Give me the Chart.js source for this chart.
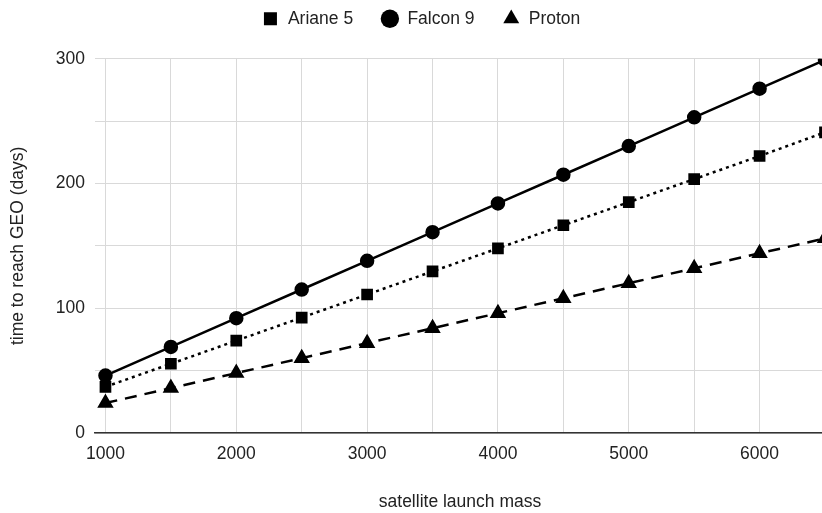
<!DOCTYPE html>
<html>
<head>
<meta charset="utf-8">
<script src="https://cdn.jsdelivr.net/npm/chart.js@4"></script>
<style>
  html, body { margin: 0; padding: 0; background: #fff; overflow: hidden; }
  /* il grafico originale è tagliato a destra e in alto: canvas un po' più grande */
  #wrap { width: 836px; height: 531px; margin-top: -18px; }
</style>
</head>
<body>
<div id="wrap"><canvas id="launchChart"></canvas></div>
<script>
// masse dei satelliti (asse x)
const masses = [1000, 1500, 2000, 2500, 3000, 3500, 4000, 4500, 5000, 5500, 6000, 6500];

// giorni per arrivare in GEO
const ariane5 = [37, 55.5, 74, 92.5, 111, 129.5, 148, 166.5, 185, 203.5, 222, 241];
const falcon9 = [46, 69, 92, 115, 138, 161, 184, 207, 230, 253, 276, 299];
const proton  = [24, 36, 48, 60, 72, 84, 96, 108, 120, 132, 144, 156];

const xTicks = [1000, 1500, 2000, 2500, 3000, 3500, 4000, 4500, 5000, 5500, 6000, 6500];
const yTicks = [0, 50, 100, 150, 200, 250, 300];

const FONT = "'Liberation Sans', Arial, sans-serif";
const FSIZE = 17.5;
const toPoints = vals => vals.map((v, i) => ({ x: masses[i], y: v }));

const ctx = document.getElementById('launchChart').getContext('2d');
new Chart(ctx, {
    type: 'line',
    data: {
        datasets: [
            {
                label: 'Ariane 5',
                data: toPoints(ariane5),
                borderColor: '#000',
                backgroundColor: '#000',
                borderWidth: 2.5,
                borderDash: [3, 4],
                pointStyle: 'rect',
                pointRadius: 6.5,
                pointHoverRadius: 6.5
            },
            {
                label: 'Falcon 9',
                data: toPoints(falcon9),
                borderColor: '#000',
                backgroundColor: '#000',
                borderWidth: 2.5,
                pointStyle: 'circle',
                pointRadius: 6,
                pointHoverRadius: 6
            },
            {
                label: 'Proton',
                data: toPoints(proton),
                borderColor: '#000',
                backgroundColor: '#000',
                borderWidth: 2.5,
                borderDash: [12, 8],
                pointStyle: 'triangle',
                pointRadius: 7,
                pointHoverRadius: 7
            }
        ]
    },
    options: {
        responsive: true,
        maintainAspectRatio: false,
        animation: false,
        layout: { padding: { top: 0, right: 10, bottom: 0, left: 16 } },
        plugins: {
            legend: {
                position: 'top',
                labels: {
                    usePointStyle: true,
                    boxWidth: 17.5,
                    boxHeight: 13,
                    padding: 28,
                    color: '#222',
                    font: { family: FONT, size: FSIZE },
                    // niente bordo tratteggiato sui simboli della legenda
                    generateLabels: chart => Chart.defaults.plugins.legend.labels.generateLabels(chart)
                        .map(item => ({ ...item, lineWidth: 0, lineDash: [] }))
                }
            },
            // spazio vuoto tra legenda e area del grafico
            subtitle: {
                display: true,
                text: '',
                weight: 500,
                font: { size: 1 },
                padding: { top: 0, bottom: 20 }
            },
            tooltip: { enabled: false }
        },
        scales: {
            x: {
                type: 'linear',
                min: 920,
                max: 6500,
                afterBuildTicks: s => { s.ticks = xTicks.map(v => ({ value: v })); },
                afterFit: s => { s.height = 80; },
                ticks: {
                    color: '#222',
                    padding: 11,
                    maxRotation: 0,
                    autoSkip: false,
                    font: { family: FONT, size: FSIZE },
                    callback: v => (v % 1000 === 0 ? String(v) : '')
                },
                grid: { color: '#d9d9d9', lineWidth: 1, drawTicks: false },
                border: { display: true, color: '#333', width: 1.5 },
                title: {
                    display: true,
                    text: 'satellite launch mass',
                    color: '#222',
                    font: { family: FONT, size: FSIZE },
                    padding: { top: 0, bottom: 0 }
                }
            },
            y: {
                min: 0,
                max: 300,
                afterBuildTicks: s => { s.ticks = yTicks.map(v => ({ value: v })); },
                afterFit: s => { s.width = 79; },
                ticks: {
                    color: '#222',
                    padding: 10,
                    autoSkip: false,
                    font: { family: FONT, size: FSIZE },
                    callback: v => (v % 100 === 0 ? String(v) : '')
                },
                grid: { color: '#d9d9d9', lineWidth: 1, drawTicks: false },
                border: { display: false },
                title: {
                    display: true,
                    text: 'time to reach GEO (days)',
                    color: '#222',
                    font: { family: FONT, size: FSIZE },
                    padding: { top: -8, bottom: 0 }
                }
            }
        }
    }
});
</script>
</body>
</html>
